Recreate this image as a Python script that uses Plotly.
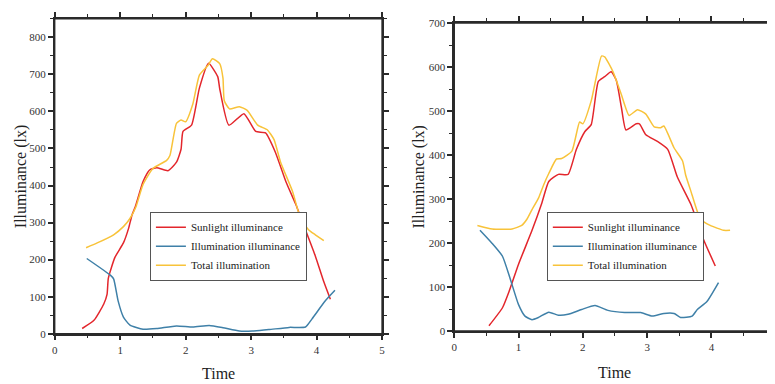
import plotly.graph_objects as go

# ---------------- data ----------------
L_sun_x = [0.42, 0.6, 0.75, 0.8, 0.82, 0.92, 1.05, 1.13, 1.18, 1.23, 1.35, 1.45, 1.56, 1.73, 1.86, 1.93, 1.96,
           2.09, 2.21, 2.35, 2.49, 2.52, 2.66, 2.89, 3.07, 3.22, 3.37, 3.53, 3.68, 3.83, 3.98, 4.11, 4.21]
L_sun_y = [14, 36, 80, 106, 150, 206, 245, 285, 320, 342, 411, 442, 448, 440, 463, 498, 546,
           563, 663, 730, 694, 662, 563, 594, 546, 542, 490, 411, 350, 280, 210, 140, 93]

L_ill_x = [0.49, 0.85, 0.9, 0.97, 1.05, 1.15, 1.35, 1.56, 1.86, 2.11, 2.36, 2.57, 2.82, 3.02, 3.27, 3.58,
           3.83, 3.93, 4.13, 4.28]
L_ill_y = [203, 158, 148, 88, 45, 23, 12, 14, 21, 18, 22, 16, 7, 7, 11, 17, 18, 40, 88, 117]

L_tot_x = [0.48, 0.65, 0.9, 1.05, 1.15, 1.24, 1.35, 1.5, 1.71, 1.76, 1.86, 1.93, 2.0, 2.11, 2.21, 2.34, 2.41,
           2.52, 2.57, 2.59, 2.67, 2.82, 2.94, 3.1, 3.25, 3.35, 3.45, 3.63, 3.73, 3.78, 3.88, 3.98, 4.11]
L_tot_y = [232, 245, 267, 289, 311, 342, 403, 446, 468, 481, 568, 577, 572, 620, 698, 724, 742,
           729, 690, 629, 607, 613, 603, 563, 550, 524, 463, 385, 324, 306, 280, 267, 251]

R_sun_x = [0.54, 0.75, 0.85, 1.0, 1.21, 1.36, 1.47, 1.62, 1.77, 1.9, 2.03, 2.13, 2.24, 2.34, 2.44, 2.52, 2.6,
           2.67, 2.83, 2.88, 2.98, 3.16, 3.32, 3.47, 3.68, 3.88, 4.06]
R_sun_y = [12, 53, 89, 152, 229, 290, 340, 356, 356, 413, 453, 469, 567, 578, 589, 570, 508,
           457, 471, 471, 446, 431, 413, 350, 288, 207, 148]

R_ill_x = [0.4, 0.59, 0.75, 0.87, 1.0, 1.1, 1.21, 1.31, 1.47, 1.62, 1.77, 1.98, 2.19, 2.39, 2.65, 2.9, 3.08,
           3.26, 3.42, 3.52, 3.7, 3.78, 3.93, 4.11]
R_ill_y = [229, 199, 170, 119, 60, 34, 26, 31, 43, 36, 38, 49, 58, 47, 42, 42, 34, 40, 40, 31, 34, 49, 67, 110]

R_tot_x = [0.36, 0.59, 0.9, 1.05, 1.13, 1.21, 1.31, 1.39, 1.47, 1.59, 1.67, 1.83, 1.95, 2.0, 2.13, 2.29, 2.34,
           2.47, 2.6, 2.72, 2.85, 2.98, 3.11, 3.21, 3.26, 3.42, 3.55, 3.6, 3.68, 3.83, 3.98, 4.19, 4.29]
R_tot_y = [240, 232, 232, 240, 254, 276, 302, 332, 358, 391, 392, 409, 475, 471, 523, 625, 623,
           589, 537, 490, 503, 493, 464, 462, 466, 416, 387, 354, 318, 254, 240, 229, 229]

series_names = ["Sunlight illuminance", "Illumination illuminance", "Total illumination"]
x_title = "Time"
y_title = "Illuminance (lx)"
x_range = [0, 5]
L_y_range = [0, 850]
R_y_range = [0, 700]

# ---------------- styling ----------------
RED = "#E3262C"
BLUE = "#3F80A8"
YEL = "#F8C33A"
FONT = "Liberation Serif"
AX = "#2a2a2a"

fig = go.Figure()

def add(x, y, name, color, xa, ya, legend):
    fig.add_trace(go.Scatter(x=x, y=y, name=name, mode="lines",
                             line=dict(color=color, width=1.5, shape="spline", smoothing=0.5),
                             xaxis=xa, yaxis=ya, legend=legend))

# left panel
add(L_sun_x, L_sun_y, series_names[0], RED, "x", "y", "legend")
add(L_ill_x, L_ill_y, series_names[1], BLUE, "x", "y", "legend")
add(L_tot_x, L_tot_y, series_names[2], YEL, "x", "y", "legend")
# right panel
add(R_sun_x, R_sun_y, series_names[0], RED, "x2", "y2", "legend2")
add(R_ill_x, R_ill_y, series_names[1], BLUE, "x2", "y2", "legend2")
add(R_tot_x, R_tot_y, series_names[2], YEL, "x2", "y2", "legend2")

tickfont = dict(family=FONT, size=11, color="#333")

def main_x(domain, anchor):
    return dict(domain=domain, anchor=anchor, range=x_range, dtick=1, tick0=0,
                showline=True, mirror="ticks", linecolor=AX, linewidth=1.5, ticks="outside", ticklen=5,
                tickwidth=1.5, tickcolor=AX, showgrid=False, zeroline=False, tickfont=tickfont,
                minor=dict(ticks="outside", ticklen=3, dtick=0.5, tickcolor=AX, tickwidth=1))

def main_y(domain, anchor, rng):
    return dict(domain=domain, anchor=anchor, range=rng, dtick=100, tick0=0,
                showline=True, mirror="ticks", linecolor=AX, linewidth=1.5, ticks="outside", ticklen=5,
                tickwidth=1.5, tickcolor=AX, showgrid=False, zeroline=False, tickfont=tickfont,
                minor=dict(ticks="outside", ticklen=3, dtick=50, tickcolor=AX, tickwidth=1))

W, H = 775, 384
Ld_x = [44 / W, 374 / W]
Ld_y = [(H - 330) / H, (H - 5) / H]
Rd_x = [446.7 / W, 770.7 / W]
Rd_y = [(H - 327.3) / H, (H - 9.3) / H]

legend_style = dict(bgcolor="white", bordercolor="#555", borderwidth=1,
                    font=dict(family=FONT, size=11, color="#222"),
                    xanchor="left", yanchor="top", tracegroupgap=0, itemwidth=30)

fig.update_layout(
    width=W, height=H, autosize=False,
    margin=dict(l=0, r=0, t=0, b=0),
    paper_bgcolor="white", plot_bgcolor="white",
    font=dict(family=FONT, color="#222"),
    xaxis=main_x(Ld_x, "y"),
    yaxis=main_y(Ld_y, "x", L_y_range),
    xaxis2=main_x(Rd_x, "y2"),
    yaxis2=main_y(Rd_y, "x2", R_y_range),
    legend=dict(x=140 / W, y=(H - 204) / H, **legend_style),
    legend2=dict(x=540 / W, y=(H - 204) / H, **legend_style),
    showlegend=True,
)

# plot frames (axis boxes)
for xr, yr in (("x domain", "y domain"), ("x2 domain", "y2 domain")):
    fig.add_shape(type="rect", xref=xr, yref=yr, x0=0, x1=1, y0=0, y1=1,
                  line=dict(color=AX, width=1.5), fillcolor="rgba(0,0,0,0)", layer="above")

title_font = dict(family=FONT, size=16, color="#222")
ann = [
    dict(text=y_title, x=10 / W, y=(H - 167.5) / H, textangle=-90),
    dict(text=x_title, x=209 / W, y=(H - 371) / H),
    dict(text=y_title, x=411 / W, y=(H - 168) / H, textangle=-90),
    dict(text=x_title, x=608.7 / W, y=(H - 370) / H),
]
for a in ann:
    fig.add_annotation(xref="paper", yref="paper", showarrow=False, font=title_font,
                       xanchor="center", yanchor="middle", **a)

fig.write_html("out.html")
